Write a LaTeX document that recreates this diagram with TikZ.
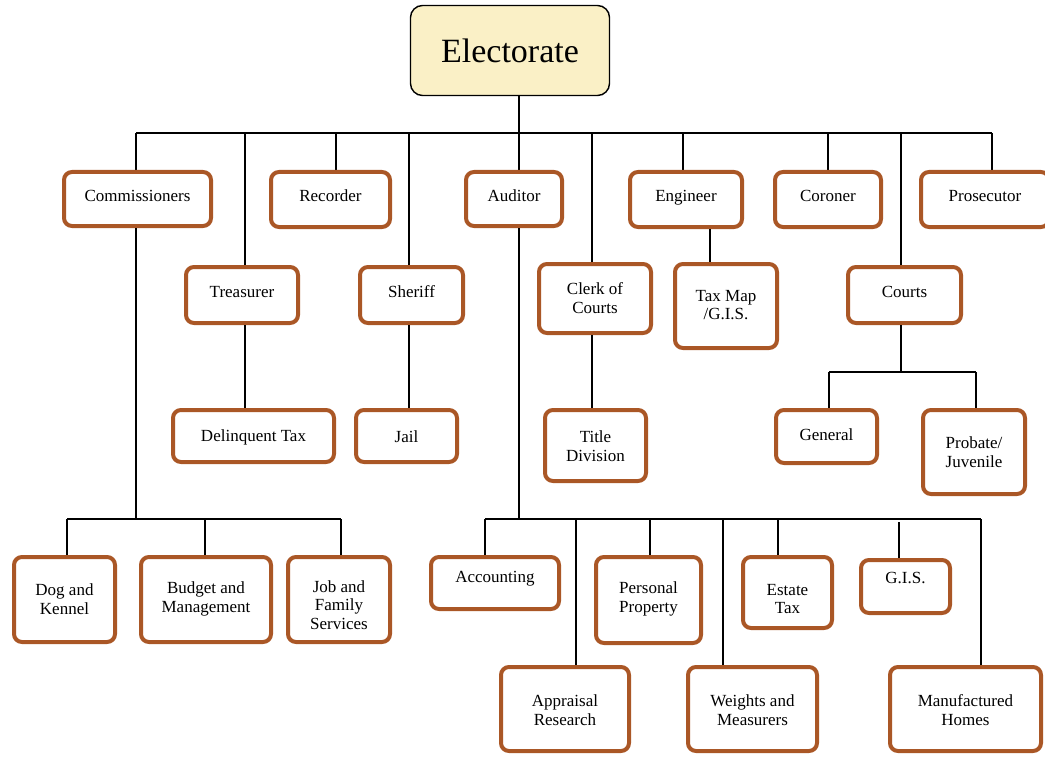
\documentclass[tikz,border=0pt]{standalone}
\usepackage{fontspec}
\setmainfont{Liberation Serif}
\definecolor{brn}{RGB}{170,87,38}
\definecolor{elecfill}{RGB}{250,240,198}
\newcommand\obox[7]{%
  \node[ob,minimum width={#4-#2-4},minimum height={#5-#3-4}] (#1) at ({(#2+#4)/2},{(#3+#5)/2}) {};
  \node[txt] (#1-t) at ({(#2+#4)/2},#6) {#7};}
\begin{document}
\begin{tikzpicture}[x=1pt,y=-1pt,
  ob/.style={draw=brn,line width=4pt,rounded corners=8pt,fill=white,inner sep=0pt},
  txt/.style={font=\fontsize{17}{18.5}\selectfont,align=center,inner sep=0pt},
  ln/.style={draw=black,line width=1.2pt}]
\useasboundingbox (0,0) rectangle (1045,757);
% Electorate
\node[draw=black,line width=1.4pt,rounded corners=12pt,fill=elecfill,
  minimum width=199,minimum height=90,inner sep=0pt,
  font=\fontsize{34}{40}\selectfont] (elec) at (510,50.5) {Electorate};
% bar coordinates
\coordinate (t-comm) at (136,133);
\coordinate (t-trea) at (245,133);
\coordinate (t-rec) at (336,133);
\coordinate (t-sher) at (409,133);
\coordinate (t-aud) at (519,133);
\coordinate (t-clerk) at (592,133);
\coordinate (t-eng) at (683,133);
\coordinate (t-cor) at (828,133);
\coordinate (t-courts) at (901,133);
\coordinate (t-pros) at (992,133);
\coordinate (e-tax) at (710,0);
\coordinate (cr-bar) at (901,372);
\coordinate (cr-gen) at (829,372);
\coordinate (cr-prob) at (976,372);
\coordinate (cm-bar) at (136,519);
\coordinate (cm-dog) at (67,519);
\coordinate (cm-bud) at (205,519);
\coordinate (cm-job) at (341,519);
\coordinate (au-bar) at (519,519);
\coordinate (au-acc) at (485,519);
\coordinate (au-app) at (576,519);
\coordinate (au-per) at (650,519);
\coordinate (au-wei) at (723,519);
\coordinate (au-est) at (778,519);
\coordinate (au-gis) at (899,522);
\coordinate (au-man) at (981,519);
% connectors (behind boxes)
\draw[ln] (elec.south -| t-aud) -- (t-aud);
\draw[ln] (t-comm) -- (t-pros);
\foreach \c in {comm,trea,rec,sher,aud,clerk,eng,cor,courts,pros}{
  \draw[ln] (t-\c) -- ++(0,45);}
% boxes top row
\obox{comm}{62}{170}{213}{228}{196}{Commissioners}
\obox{rec}{269}{170}{392}{229}{196}{Recorder}
\obox{aud}{464}{170}{564}{228}{196}{Auditor}
\obox{eng}{628}{170}{744}{229}{198}{Engineer}
\obox{cor}{773}{170}{883}{229}{196}{Coroner}
\obox{pros}{919}{170}{1051}{229}{196}{Prosecutor}
% second row connectors
\draw[ln] (t-trea) -- (t-trea |- 0,265);
\draw[ln] (t-sher) -- (t-sher |- 0,265);
\draw[ln] (t-clerk) -- (t-clerk |- 0,262);
\draw[ln] (t-courts) -- (t-courts |- 0,265);
\draw[ln] (eng.south -| e-tax) -- (e-tax |- 0,263);
% second row
\obox{trea}{184}{265}{300}{325}{292}{Treasurer}
\obox{sher}{358}{265}{465}{325}{292}{Sheriff}
\obox{clerk}{537}{262}{653}{335}{298}{Clerk of\\Courts}
\obox{tax}{673}{262}{779}{350}{305}{Tax Map\\/G.I.S.}
\obox{courts}{846}{265}{963}{325}{292}{Courts}
% third row connectors
\draw[ln] (trea.south -| t-trea) -- (t-trea |- 0,408);
\draw[ln] (sher.south -| t-sher) -- (t-sher |- 0,408);
\draw[ln] (clerk.south -| t-clerk) -- (t-clerk |- 0,408);
\draw[ln] (courts.south -| cr-bar) -- (cr-bar);
\draw[ln] (cr-gen) -- (cr-prob);
\draw[ln] (cr-gen) -- (cr-gen |- 0,408);
\draw[ln] (cr-prob) -- (cr-prob |- 0,408);
% third row
\obox{del}{171}{408}{336}{464}{437}{Delinquent Tax}
\obox{jail}{354}{408}{459}{464}{437}{Jail}
\obox{title}{543}{408}{648}{483}{446}{Title\\Division}
\obox{gen}{774}{408}{879}{465}{435}{General}
\obox{prob}{921}{408}{1027}{496}{452}{Probate/\\Juvenile}
% commissioners branch
\draw[ln] (comm.south -| cm-bar) -- (cm-bar);
\draw[ln] (cm-dog) -- (cm-job);
\foreach \c in {dog,bud,job}{\draw[ln] (cm-\c) -- (cm-\c |- 0,555);}
\obox{dog}{12}{555}{117}{644}{599}{Dog and\\Kennel}
\obox{bud}{139}{555}{273}{644}{599}{Budget and\\Management}
\obox{job}{286}{555}{392}{644}{605}{Job and\\Family\\Services}
% auditor branch
\draw[ln] (aud.south -| au-bar) -- (au-bar);
\draw[ln] (au-acc) -- (au-man);
\draw[ln] (au-acc) -- (au-acc |- 0,555);
\draw[ln] (au-per) -- (au-per |- 0,555);
\draw[ln] (au-est) -- (au-est |- 0,555);
\draw[ln] (au-gis) -- (au-gis |- 0,558);
\draw[ln] (au-app) -- (au-app |- 0,665);
\draw[ln] (au-wei) -- (au-wei |- 0,665);
\draw[ln] (au-man) -- (au-man |- 0,665);
\obox{acc}{429}{555}{561}{611}{579}{Accounting}
\obox{per}{594}{555}{703}{645}{599}{Personal\\Property}
\obox{est}{741}{555}{834}{630}{599}{Estate\\Tax}
\obox{gis}{859}{558}{952}{615}{578}{G.I.S.}
\obox{app}{499}{665}{631}{753}{710}{Appraisal\\Research}
\obox{wei}{686}{665}{819}{753}{710}{Weights and\\Measurers}
\obox{man}{888}{665}{1043}{753}{710}{Manufactured\\Homes}
\end{tikzpicture}
\end{document}
